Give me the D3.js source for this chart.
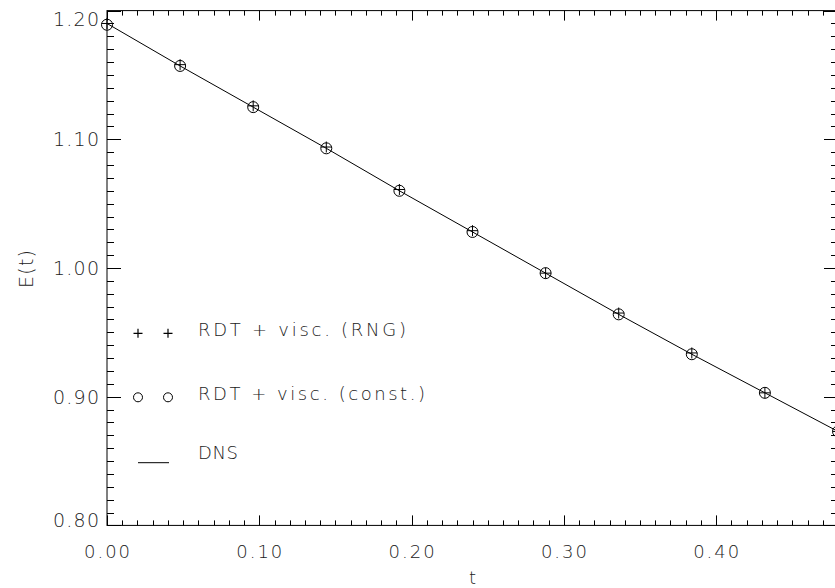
<!DOCTYPE html>
<html>
<head>
<meta charset="utf-8">
<script src="https://cdn.jsdelivr.net/npm/d3@7"></script>
<style>
  body { margin: 0; background: #fff; }
  svg text { font-family: "DejaVu Sans", Roboto, sans-serif; font-weight: 200; fill: #222; }
</style>
</head>
<body>
<svg id="chart" width="835" height="588"></svg>
<script>
// data
const tVals  = [0, 0.048, 0.096, 0.144, 0.192, 0.240, 0.288, 0.336, 0.384, 0.432, 0.480];
const eConst = [1.189, 1.157, 1.125, 1.093, 1.060, 1.028, 0.996, 0.964, 0.933, 0.903, 0.873];
const eRng   = [1.190, 1.158, 1.126, 1.094, 1.061, 1.029, 0.996, 0.965, 0.934, 0.903, 0.873];
const eDns   = [1.190, 1.157, 1.125, 1.093, 1.060, 1.028, 0.996, 0.964, 0.933, 0.903, 0.873];

const xMajor = [0, 0.1, 0.2, 0.3, 0.4];
const yMajor = [0.8, 0.9, 1.0, 1.1, 1.2];
const legendLabels = ["RDT + visc. (RNG)", "RDT + visc. (const.)", "DNS"];

const svg = d3.select('#chart');
const plotL = 107, plotR = 838, plotT = 10.6, plotB = 525.4;

const x = d3.scaleLinear().domain([0, 0.48]).range([plotL, plotR]);
const y = d3.scaleLinear().domain([0.8, 1.2]).range([plotB, plotT]);
const fmt = d3.format('.2f');

const xMinor = d3.range(0, 0.4801, 0.01);
const yMinor = d3.range(0.8, 1.2001, 0.01);
const isMajor = v => Math.abs(v * 10 - Math.round(v * 10)) < 1e-6;

// frame
svg.append('rect')
  .attr('x', plotL).attr('y', plotT)
  .attr('width', plotR - plotL).attr('height', plotB - plotT)
  .attr('fill', 'none').attr('stroke', '#000').attr('stroke-width', 1);

const ticks = svg.append('g').attr('stroke', '#000').attr('stroke-width', 1);

// bottom and top ticks
xMinor.forEach(v => {
  const len = isMajor(v) ? 10 : 5;
  const px = Math.round(x(v)) + 0.5;
  ticks.append('line').attr('x1', px).attr('x2', px).attr('y1', plotB).attr('y2', plotB - len);
  ticks.append('line').attr('x1', px).attr('x2', px).attr('y1', plotT).attr('y2', plotT + len);
});

// left and right ticks
yMinor.forEach(v => {
  const len = isMajor(v) ? 14 : 7;
  const py = Math.round(y(v)) + 0.5;
  ticks.append('line').attr('x1', plotL).attr('x2', plotL + len).attr('y1', py).attr('y2', py);
  ticks.append('line').attr('x1', plotR).attr('x2', plotR - len).attr('y1', py).attr('y2', py);
});

// tick labels
svg.append('g').selectAll('text').data(xMajor).join('text')
  .attr('x', d => x(d)).attr('y', 558)
  .attr('text-anchor', 'middle')
  .attr('font-size', 18)
  .attr('textLength', 46).attr('lengthAdjust', 'spacing')
  .text(d => fmt(d));

svg.append('g').selectAll('text').data(yMajor).join('text')
  .attr('x', 99)
  .attr('y', d => Math.min(Math.max(y(d), 19), 519.5) + 7)
  .attr('text-anchor', 'end')
  .attr('font-size', 19)
  .attr('textLength', 46).attr('lengthAdjust', 'spacing')
  .text(d => fmt(d));

// axis titles
svg.append('text')
  .attr('x', (plotL + plotR) / 2).attr('y', 584)
  .attr('text-anchor', 'middle').attr('font-size', 18)
  .text('t');

svg.append('text')
  .attr('transform', 'translate(33,269) rotate(-90)')
  .attr('text-anchor', 'middle').attr('font-size', 19)
  .attr('textLength', 38).attr('lengthAdjust', 'spacing')
  .text('E(t)');

// DNS line
const line = d3.line().x((d, i) => x(tVals[i])).y(d => y(d));
svg.append('path')
  .datum(eDns)
  .attr('d', line)
  .attr('fill', 'none').attr('stroke', '#000').attr('stroke-width', 1);

// circles (const. viscosity)
svg.append('g').selectAll('circle').data(eConst).join('circle')
  .attr('cx', (d, i) => x(tVals[i])).attr('cy', d => y(d))
  .attr('r', 5.5)
  .attr('fill', 'none').attr('stroke', '#000').attr('stroke-width', 1);

// plus (RNG viscosity)
const plusPath = (cx, cy, a) => `M${cx - a},${cy}H${cx + a}M${cx},${cy - a}V${cy + a}`;
svg.append('g').selectAll('path').data(eRng).join('path')
  .attr('d', (d, i) => plusPath(x(tVals[i]), y(d), 5.5))
  .attr('fill', 'none').attr('stroke', '#000').attr('stroke-width', 1);

// legend
const leg = svg.append('g');
const symY = [333.3, 397.3, 462.7];
const textY = [336, 400, 459.3];
const textW = [208, 227, 40];
[138, 168].forEach(cx => {
  leg.append('path').attr('d', plusPath(cx, symY[0], 4.5))
    .attr('stroke', '#000').attr('stroke-width', 1.2);
  leg.append('circle').attr('cx', cx).attr('cy', symY[1]).attr('r', 4.5)
    .attr('fill', 'none').attr('stroke', '#000').attr('stroke-width', 1);
});
leg.append('line').attr('x1', 138).attr('x2', 169)
  .attr('y1', symY[2]).attr('y2', symY[2])
  .attr('stroke', '#000').attr('stroke-width', 1);

leg.selectAll('text').data(legendLabels).join('text')
  .attr('x', 198).attr('y', (d, i) => textY[i])
  .attr('font-size', 18)
  .attr('textLength', (d, i) => textW[i]).attr('lengthAdjust', 'spacing')
  .text(d => d);
</script>
</body>
</html>
